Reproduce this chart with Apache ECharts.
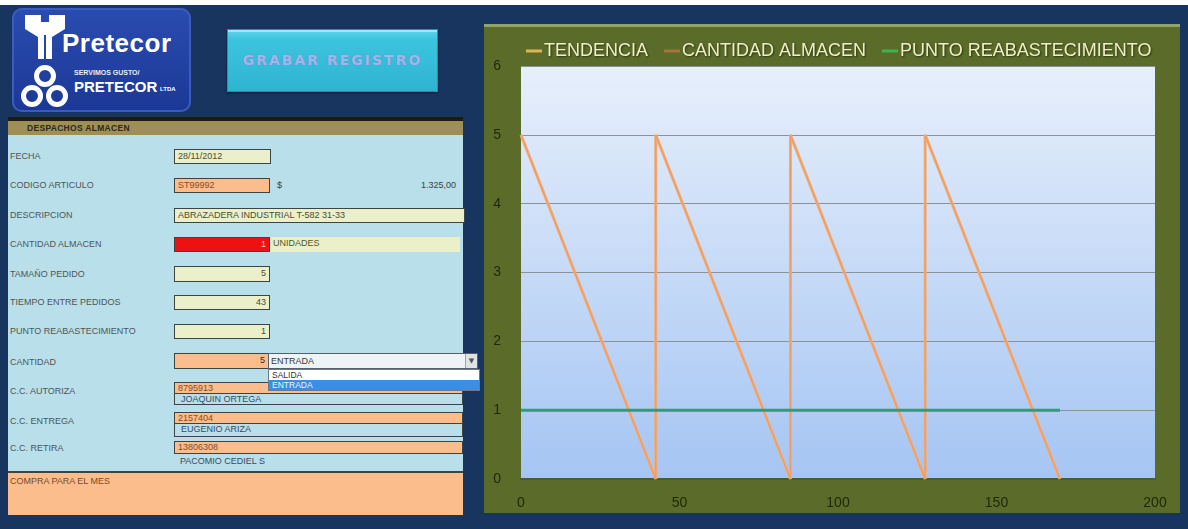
<!DOCTYPE html>
<html>
<head>
<meta charset="utf-8">
<title>Despachos almacén</title>
<script src="https://cdn.jsdelivr.net/npm/echarts@6/dist/echarts.min.js"></script>
<style>
  html, body { margin: 0; padding: 0; width: 1188px; height: 529px; overflow: hidden;
    background: #17355f; font-family: 'Liberation Sans', Arial, sans-serif; }
  .a { position: absolute; box-sizing: border-box; }
  #topstrip { left: 0; top: 0; width: 1188px; height: 5px; background: #ffffff; }
  /* logo */
  #logo { left: 12px; top: 8px; width: 179px; height: 104px; border-radius: 10px;
    background: linear-gradient(#2a4cb0, #1c3896); box-shadow: inset 0 0 0 2px #3a5cc0; }
  #logo .brand { left: 50px; top: 20px; font: bold 26px 'Liberation Sans', Arial, sans-serif; color: #fff; letter-spacing: 0.5px; }
  #logo .tag { left: 62px; top: 61px; font: bold 7px 'Liberation Sans', sans-serif; color: #e8ecff; }
  #logo .name { left: 62px; top: 70px; font: bold 15px 'Liberation Sans', sans-serif; color: #fff; letter-spacing: 0px; }
  #logo .ltda { left: 148px; top: 78px; font: bold 6px 'Liberation Sans', sans-serif; color: #fff; }
  /* button */
  #btn { left: 227px; top: 29px; width: 211px; height: 63px;
    background: linear-gradient(#5fd6ec 0%, #3cc4df 15%, #2fb4d0 100%);
    border: 1px solid #2592ad; box-shadow: inset 0 2px 0 #9be8f6, 0 1px 2px rgba(0,0,0,0.5);
    text-align: center; font: bold 14px 'DejaVu Sans', sans-serif; line-height: 61px;
    color: #a4b4ec; letter-spacing: 2px; text-shadow: 0 0 1px #6f7fc0; }
  /* form */
  #hdrline { left: 8px; top: 117px; width: 455px; height: 4px; background: #1b1b16; }
  #hdr { left: 8px; top: 121px; width: 455px; height: 14px; background: #9d8f55;
    font: bold 8.5px 'Liberation Sans', Arial, sans-serif; line-height: 14px; color: #2e2a14; padding-left: 19px; letter-spacing: 0.3px; }
  #form { left: 8px; top: 135px; width: 455px; height: 336px; background: #b8dfea; }
  .lbl { left: 10px; font: 9px 'Liberation Sans', Arial, sans-serif; line-height: 12px; color: #505556; }
  .box { border: 1px solid #3c4446; font: 9px 'Liberation Sans', Arial, sans-serif; line-height: 12px;
    padding: 0 3px; color: #4b4d30; white-space: nowrap; overflow: hidden; }
  .y { background: #ebefca; }
  .o { background: #fbbd8c; color: #8a4a20; }
  .r { background: #ee1111; color: #f8d0d0; }
  .lb { background: #b8dfea; color: #3b4a60; }
  .num { text-align: right; }
  #compra { left: 8px; top: 471px; width: 455px; height: 44px; background: #fbbd8c;
    border-top: 2px solid #3c4446; font: 9px 'Liberation Sans', Arial, sans-serif; color: #7a4a28; padding: 3px 2px; }
  #dd { left: 268px; top: 353px; width: 210px; height: 16px; background: #eef3f6; border: 1px solid #55606a;
    font: 9px 'Liberation Sans', Arial, sans-serif; line-height: 14px; color: #3a3a3a; padding-left: 2px; }
  #ddarrow { left: 465px; top: 354px; width: 12px; height: 14px; background: #dfe3e6; border-left: 1px solid #9aa;
    font: 7px 'DejaVu Sans', sans-serif; line-height: 14px; color: #555; text-align: center; }
  #ddlist { left: 268px; top: 369px; width: 212px; height: 22px; border: 1px solid #6a7a8a; background: #fff; }
  #ddlist .it { left: 0; width: 210px; height: 10px; font: 8.5px 'Liberation Sans', Arial, sans-serif; line-height: 10px; padding-left: 3px; }
  /* chart frame */
  #frame { left: 484px; top: 24px; width: 696px; height: 489px; background: #5b6c2a;
    box-shadow: inset 0 3px 0 #8fa466; }
  #chart { left: 484px; top: 24px; width: 696px; height: 489px; }
</style>
</head>
<body>
<div id="topstrip" class="a"></div>

<div id="logo" class="a">
  <svg class="a" style="left:10px;top:5px" width="46" height="48" viewBox="0 0 46 48">
    <path d="M3 2 L19 2 L19 9 L27 9 L27 2 L43 2 L43 16 L30 24 L30 46 L24 46 L24 22 L22 22 L22 46 L16 46 L16 24 L3 16 Z" fill="#ffffff"/>
  </svg>
  <div class="a brand">Pretecor</div>
  <svg class="a" style="left:8px;top:56px" width="50" height="46" viewBox="0 0 50 46">
    <g fill="none" stroke="#ffffff" stroke-width="5">
      <circle cx="25" cy="12" r="8.5"/>
      <circle cx="12" cy="32" r="8.5"/>
      <circle cx="37" cy="32" r="8.5"/>
    </g>
  </svg>
  <div class="a tag">SERVIMOS GUSTO/</div>
  <div class="a name">PRETECOR</div>
  <div class="a ltda">LTDA</div>
</div>

<div id="btn" class="a">GRABAR REGISTRO</div>

<div id="hdrline" class="a"></div>
<div id="hdr" class="a">DESPACHOS ALMACEN</div>
<div id="form" class="a"></div>

<div class="a lbl" style="top:150px">FECHA</div>
<div class="a box y" style="left:174px;top:149px;width:97px;height:15px">28/11/2012</div>

<div class="a lbl" style="top:179px">CODIGO ARTICULO</div>
<div class="a box o" style="left:174px;top:178px;width:96px;height:15px">ST99992</div>
<div class="a lbl" style="left:277px;top:179px;color:#404040">$</div>
<div class="a lbl" style="left:400px;top:179px;width:56px;text-align:right;color:#404040">1.325,00</div>

<div class="a lbl" style="top:209px">DESCRIPCION</div>
<div class="a box y" style="left:174px;top:208px;width:291px;height:15px">ABRAZADERA INDUSTRIAL T-582 31-33</div>

<div class="a lbl" style="top:238px">CANTIDAD ALMACEN</div>
<div class="a box y" style="left:270px;top:237px;width:190px;height:15px;border:none;color:#4f5a28">UNIDADES</div>
<div class="a box r num" style="left:174px;top:237px;width:96px;height:15px">1</div>

<div class="a lbl" style="top:268px">TAMAÑO PEDIDO</div>
<div class="a box y num" style="left:174px;top:266px;width:96px;height:16px">5</div>

<div class="a lbl" style="top:296px">TIEMPO ENTRE PEDIDOS</div>
<div class="a box y num" style="left:174px;top:295px;width:96px;height:15px">43</div>

<div class="a lbl" style="top:325px">PUNTO REABASTECIMIENTO</div>
<div class="a box y num" style="left:174px;top:324px;width:96px;height:15px">1</div>

<div class="a lbl" style="top:356px">CANTIDAD</div>
<div class="a box o num" style="left:174px;top:353px;width:95px;height:16px;color:#3a2a10">5</div>

<div class="a lbl" style="top:385px">C.C. AUTORIZA</div>
<div class="a box o" style="left:174px;top:382px;width:289px;height:12px;line-height:10px">8795913</div>
<div class="a box lb" style="left:174px;top:393px;width:289px;height:12px;line-height:10px;padding-left:6px">JOAQUIN ORTEGA</div>

<div class="a lbl" style="top:415px">C.C. ENTREGA</div>
<div class="a box o" style="left:174px;top:412px;width:289px;height:12px;line-height:10px">2157404</div>
<div class="a box lb" style="left:174px;top:424px;width:289px;height:13px;line-height:11px;padding-left:6px;border-top:none">EUGENIO ARIZA</div>

<div class="a lbl" style="top:442px">C.C. RETIRA</div>
<div class="a box o" style="left:174px;top:441px;width:289px;height:13px;line-height:11px">13806308</div>
<div class="a box lb" style="left:174px;top:454px;width:289px;height:14px;line-height:14px;padding-left:6px;border:none">PACOMIO CEDIEL S</div>

<div id="compra" class="a">COMPRA PARA EL MES</div>

<div id="dd" class="a">ENTRADA</div>
<div id="ddarrow" class="a">▼</div>
<div id="ddlist" class="a">
  <div class="a it" style="top:0;background:#ffffff;color:#333">SALIDA</div>
  <div class="a it" style="top:10px;background:#3a8ee6;color:#eaf4ff">ENTRADA</div>
</div>

<div id="frame" class="a"></div>
<div id="chart" class="a"></div>

<script>
// Inventory cycle: stock drops from the order size to zero over each reorder period
const xDays          = [0, 42.5, 42.5, 85, 85, 127.5, 127.5, 170];
const tendencia      = [5, 0, 5, 0, 5, 0, 5, 0];
const cantidadAlm    = [5, 0, 5, 0, 5, 0, 5, 0];
const reorderX       = [0, 170];
const reorderY       = [1, 1];
const seriesNames    = ['TENDENCIA', 'CANTIDAD ALMACEN', 'PUNTO REABASTECIMIENTO'];
const legendColors   = ['#e2b253', '#a5733c', '#38b451'];

const pairs = (xs, ys) => xs.map((x, i) => [x, ys[i]]);

const chart = echarts.init(document.getElementById('chart'), null, { renderer: 'canvas' });
const labelFont = "'Liberation Sans', Arial, sans-serif";

chart.setOption({
  animation: false,
  backgroundColor: 'transparent',
  grid: {
    left: 37, right: 25, top: 42, bottom: 34,
    show: true, borderWidth: 0,
    backgroundColor: new echarts.graphic.LinearGradient(0, 0, 0, 1, [
      { offset: 0, color: '#e7effb' },
      { offset: 1, color: '#a5c5f3' }
    ])
  },
  legend: {
    left: 37, top: 13, itemWidth: 16, itemHeight: 3, itemGap: 16, icon: 'rect',
    textStyle: { color: '#eef0c2', fontSize: 18, fontFamily: labelFont, padding: [0, 0, 0, -3],
      textShadowColor: 'rgba(0,0,0,0.55)', textShadowBlur: 2, textShadowOffsetX: 1, textShadowOffsetY: 1 },
    data: seriesNames.map((n, i) => ({ name: n, itemStyle: { color: legendColors[i] } }))
  },
  xAxis: {
    type: 'value', min: 0, max: 200, interval: 50,
    axisLine: { show: true, lineStyle: { color: '#4d5a3a', width: 2 } },
    axisTick: { show: false },
    splitLine: { show: false },
    axisLabel: { color: '#1e2806', fontSize: 14, fontFamily: labelFont, margin: 17 }
  },
  yAxis: {
    type: 'value', min: 0, max: 6, interval: 1,
    axisLine: { show: false },
    axisTick: { show: false },
    splitLine: { show: true, lineStyle: { color: '#8a929a', width: 1 } },
    axisLabel: { color: '#1e2806', fontSize: 14, fontFamily: labelFont, margin: 20 }
  },
  series: [
    {
      name: seriesNames[0], type: 'line', data: pairs(xDays, tendencia),
      showSymbol: false, color: legendColors[0],
      lineStyle: { color: '#f4ad78', width: 3 }, z: 2
    },
    {
      name: seriesNames[1], type: 'line', data: pairs(xDays, cantidadAlm),
      showSymbol: false, color: legendColors[1],
      lineStyle: { color: '#ee9d62', width: 1.2 }, z: 3
    },
    {
      name: seriesNames[2], type: 'line', data: pairs(reorderX, reorderY),
      showSymbol: false, color: legendColors[2],
      lineStyle: { color: '#2a9e7e', width: 3 }, z: 4
    }
  ]
});
</script>
</body>
</html>
